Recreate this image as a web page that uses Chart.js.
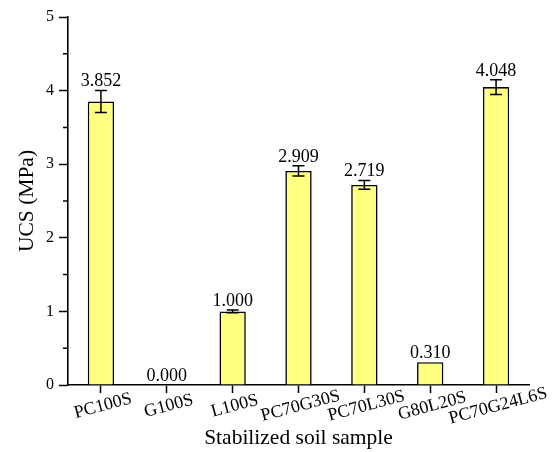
<!DOCTYPE html>
<html>
<head>
<meta charset="utf-8">
<script src="https://cdn.jsdelivr.net/npm/chart.js@4.4.1/dist/chart.umd.min.js"></script>
<style>
    html, body { margin: 0; padding: 0; background: #fff; }
    #wrap { width: 552px; height: 452px; }
</style>
</head>
<body>
<div id="wrap"><canvas id="ucsChart" width="552" height="452"></canvas></div>
<script>
/* ===== Data ===== */
const samples = ['PC100S', 'G100S', 'L100S', 'PC70G30S', 'PC70L30S', 'G80L20S', 'PC70G24L6S'];
const ucsValues = [3.852, 0.000, 1.000, 2.909, 2.719, 0.310, 4.048];
const ucsErrors = [0.15, 0, 0.02, 0.07, 0.06, 0, 0.10];
const yTicks = [0, 1, 2, 3, 4, 5];

const FONT = '"Liberation Serif", "Times New Roman", serif';

/* ===== Extras: error bars, value labels, minor ticks, axis text ===== */
const extrasPlugin = {
    id: 'extras',
    afterDatasetsDraw(chart){
        const ctx = chart.ctx;
        const x = chart.scales.x, y = chart.scales.y;
        const bars = chart.getDatasetMeta(0).data;
        ctx.save();
        ctx.strokeStyle = '#000';
        ctx.lineWidth = 1.5;
        bars.forEach((bar, i) => {
            const v = ucsValues[i], e = ucsErrors[i];
            let top = y.getPixelForValue(v);
            if(e > 0){
                const yHi = y.getPixelForValue(v + e);
                const yLo = y.getPixelForValue(v - e);
                ctx.beginPath();
                ctx.moveTo(bar.x, yHi); ctx.lineTo(bar.x, yLo);
                ctx.moveTo(bar.x - 6, yHi); ctx.lineTo(bar.x + 6, yHi);
                ctx.moveTo(bar.x - 6, yLo); ctx.lineTo(bar.x + 6, yLo);
                ctx.stroke();
                top = yHi;
            }
            ctx.fillStyle = '#000';
            ctx.font = '18px ' + FONT;
            ctx.textAlign = 'center';
            ctx.textBaseline = 'alphabetic';
            ctx.fillText(v.toFixed(3), bar.x, top - 4);
        });

        // minor ticks on y axis
        ctx.beginPath();
        for(let k = 0; k < yTicks.length - 1; k++){
            const py = y.getPixelForValue((yTicks[k] + yTicks[k+1]) / 2);
            ctx.moveTo(x.left - 5, py); ctx.lineTo(x.left, py);
        }
        ctx.stroke();

        // rotated category labels
        ctx.font = '18px ' + FONT;
        ctx.textAlign = 'center';
        ctx.textBaseline = 'middle';
        samples.forEach((s, i) => {
            const px = x.getPixelForTick(i);
            ctx.save();
            ctx.translate(px + 2, y.bottom + 21);
            ctx.rotate(-15 * Math.PI / 180);
            ctx.fillText(s, 0, 0);
            ctx.restore();
        });

        // axis titles
        const area = chart.chartArea;
        ctx.font = '21.5px ' + FONT;
        ctx.fillText('Stabilized soil sample', (area.left + area.right) / 2, 438);
        ctx.save();
        ctx.translate(27, (area.top + area.bottom) / 2);
        ctx.rotate(-Math.PI / 2);
        ctx.fillText('UCS (MPa)', 0, 0);
        ctx.restore();
        ctx.restore();
    }
};

/* ===== Chart ===== */
const ucsChart = new Chart(document.getElementById('ucsChart'), {
    type: 'bar',
    data: {
        labels: samples,
        datasets: [{
            data: ucsValues,
            backgroundColor: '#FFFF80',
            borderColor: '#000',
            borderWidth: 1.6,
            barPercentage: 0.4,
            categoryPercentage: 1
        }]
    },
    options: {
        responsive: false,
        animation: false,
        layout: { padding: { left: 0, right: 23, top: 17, bottom: 0 } },
        plugins: { legend: { display: false }, tooltip: { enabled: false } },
        scales: {
            x: {
                offset: true,
                grid: { display: true, drawOnChartArea: false, offset: false, tickLength: 8, tickColor: '#000', tickWidth: 1.5 },
                border: { display: true, color: '#000', width: 1.6 },
                ticks: { display: false },
                afterFit: s => { s.height = 67; }
            },
            y: {
                min: 0,
                max: 5,
                afterBuildTicks: s => { s.ticks = yTicks.map(v => ({ value: v })); },
                grid: { display: true, drawOnChartArea: false, tickLength: 9, tickColor: '#000', tickWidth: 1.5 },
                border: { display: true, color: '#000', width: 1.6 },
                ticks: { color: '#000', padding: 5, font: { family: FONT, size: 16 } },
                afterFit: s => { s.width = 68; }
            }
        }
    },
    plugins: [extrasPlugin]
});
</script>
</body>
</html>
